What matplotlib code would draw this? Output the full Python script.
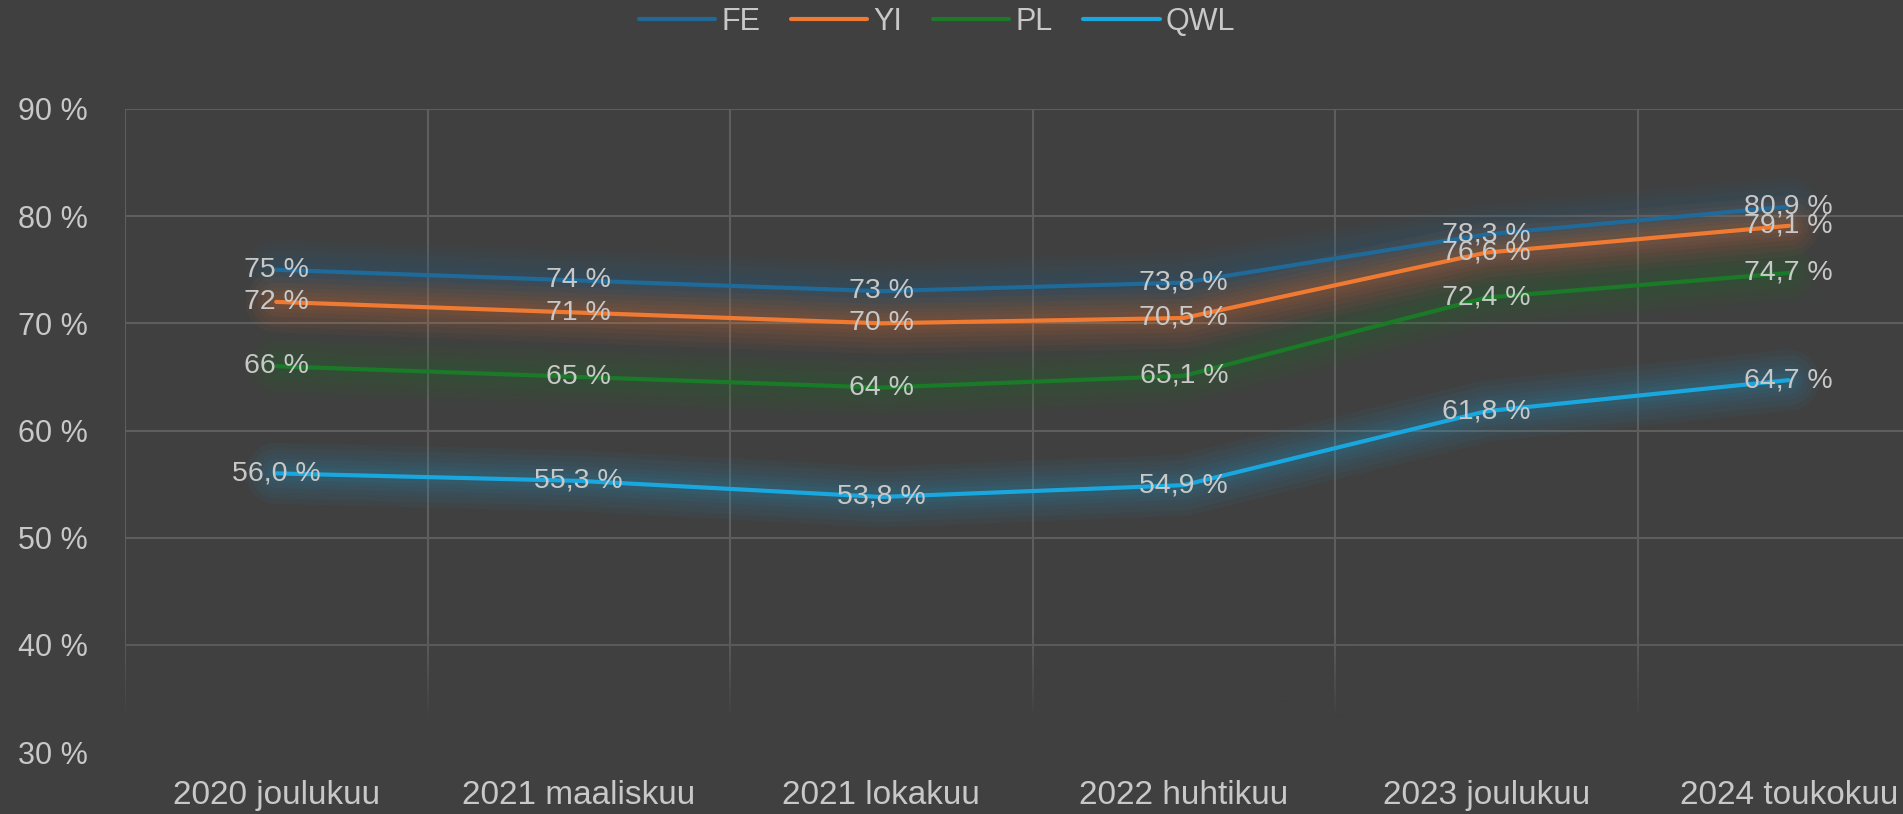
import numpy as np
import matplotlib
matplotlib.use('Agg')
import matplotlib.pyplot as plt
from matplotlib.colors import to_rgb

# -----------------------------
# data
# -----------------------------
categories = ["2020 joulukuu", "2021 maaliskuu", "2021 lokakuu",
              "2022 huhtikuu", "2023 joulukuu", "2024 toukokuu"]

fe = [75, 74, 73, 73.8, 78.3, 80.9]
yi = [72, 71, 70, 70.5, 76.6, 79.1]
pl = [66, 65, 64, 65.1, 72.4, 74.7]
qwl = [56.0, 55.3, 53.8, 54.9, 61.8, 64.7]

fe_labels = ["75 %", "74 %", "73 %", "73,8 %", "78,3 %", "80,9 %"]
yi_labels = ["72 %", "71 %", "70 %", "70,5 %", "76,6 %", "79,1 %"]
pl_labels = ["66 %", "65 %", "64 %", "65,1 %", "72,4 %", "74,7 %"]
qwl_labels = ["56,0 %", "55,3 %", "53,8 %", "54,9 %", "61,8 %", "64,7 %"]

series_names = ["FE", "YI", "PL", "QWL"]
yticks = [30, 40, 50, 60, 70, 80, 90]
ytick_labels = ["30 %", "40 %", "50 %", "60 %", "70 %", "80 %", "90 %"]

# -----------------------------
# style
# -----------------------------
bg = "#404040"
grid_c = "#5e5e5e"
text_c = "#c8c8c8"
colors = ["#1f6a98", "#f07a32", "#1b7a27", "#19a7e0"]
plt.rcParams['font.family'] = ['Liberation Sans', 'DejaVu Sans']

fig = plt.figure(figsize=(19.03, 8.14), dpi=100, facecolor=bg)
# plot area runs a bit past the right edge like the original
ax = fig.add_axes([125 / 1903, 62 / 814, 1815 / 1903, 643 / 814])
ax.set_facecolor(bg)

x = np.arange(len(categories))
all_vals = [fe, yi, pl, qwl]
all_labels = [fe_labels, yi_labels, pl_labels, qwl_labels]

handles = []
for vals, c, name in zip(all_vals, colors, series_names):
    # soft glow
    for w in [44, 36, 28, 21, 15, 10]:
        ax.plot(x, vals, color=c, lw=w, alpha=0.05, solid_capstyle='round',
                solid_joinstyle='round', zorder=3)
    h, = ax.plot(x, vals, color=c, lw=3, solid_capstyle='round', zorder=4, label=name)
    handles.append(h)

for vals, labs in zip(all_vals, all_labels):
    for xi, v, t in zip(x, vals, labs):
        ax.text(xi, v, t, ha='center', va='center', color=text_c, fontsize=20.5, zorder=6)

ax.set_xlim(-0.5, 5.5)
ax.set_ylim(30, 90)
ax.set_yticks(yticks)
ax.set_yticklabels(ytick_labels)
ax.set_xticks(x)
ax.set_xticklabels(categories)
ax.set_xticks(np.arange(-0.5, 6.0, 1.0), minor=True)

ax.grid(False)
ax.yaxis.grid(True, color=grid_c, lw=1.5)
ax.xaxis.grid(True, which='minor', color=grid_c, lw=1.5)
ax.set_axisbelow(True)

ax.tick_params(axis='y', length=0, pad=27, labelsize=22, labelcolor=text_c)
ax.tick_params(axis='x', which='both', length=0, pad=20, labelsize=24, labelcolor=text_c)
for s in ax.spines.values():
    s.set_visible(False)

# fade the lower part of the grid like the soft edge in the original
ramp = np.linspace(30, 90, 300)
alpha = np.clip((41 - ramp) / 8.0, 0, 1)
overlay = np.zeros((300, 1, 4))
overlay[:, 0, :3] = to_rgb(bg)
overlay[:, 0, 3] = alpha
ax.imshow(overlay, extent=(-0.5, 5.5, 30, 90), origin='lower', aspect='auto', zorder=1.5)

fig.legend(handles=handles, labels=series_names, loc='center', ncol=4,
           bbox_to_anchor=(937 / 1903, 1 - 22 / 814), frameon=False,
           fontsize=22, labelcolor=text_c, handlelength=2.5, handletextpad=0.2,
           columnspacing=1.0)

fig.savefig("out.png", dpi=100, facecolor=bg)
